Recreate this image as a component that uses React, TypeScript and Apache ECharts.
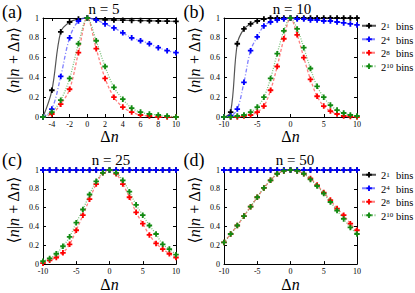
import React, { useEffect, useRef } from "react";
import * as echarts from "echarts";

const dnA = [-5, -4, -3, -2, -1, 0, 1, 2, 3, 4, 5, 6, 7, 8, 9, 10];
const dnB = [-10, -9, -8, -7, -6, -5, -4, -3, -2, -1, 0, 1, 2, 3, 4, 5, 6, 7, 8, 9, 10];

const binExps = ["1", "4", "8", "10"];
const seriesNames = ["2^1 bins", "2^4 bins", "2^8 bins", "2^10 bins"];
const panelTitles = ["n = 5", "n = 10", "n = 25", "n = 50"];
const panelTags = ["(a)", "(b)", "(c)", "(d)"];
const xTicksA = [-4, -2, 0, 2, 4, 6, 8, 10];
const xTicksB = [-10, -5, 0, 5, 10];

// panel (a) n = 5
const a1 = [0, 0.27, 0.86, 0.96, 0.99, 1, 0.985, 0.982, 0.98, 0.978, 0.976, 0.974, 0.972, 0.97, 0.968, 0.966];
const a4 = [0, 0.08, 0.41, 0.8, 0.97, 1, 0.98, 0.94, 0.9, 0.85, 0.8, 0.77, 0.74, 0.7, 0.67, 0.65];
const a8 = [0, 0.03, 0.13, 0.28, 0.65, 1, 0.69, 0.39, 0.2, 0.1, 0.05, 0.02, 0.01, 0, 0, 0];
const a10 = [0, 0.05, 0.17, 0.39, 0.74, 1, 0.77, 0.51, 0.3, 0.18, 0.09, 0.05, 0.03, 0.02, 0.01, 0];

// panel (b) n = 10
const b1 = [0, 0.05, 0.74, 0.89, 0.94, 0.97, 0.99, 1, 1, 1, 1, 1, 1, 1, 1, 1, 1, 1, 1, 1, 1];
const b4 = [0, 0.01, 0.08, 0.35, 0.67, 0.81, 0.92, 0.96, 0.98, 0.99, 1, 0.99, 0.99, 0.98, 0.98, 0.97, 0.97, 0.96, 0.95, 0.94, 0.93];
const b8 = [0, 0, 0, 0.01, 0.02, 0.05, 0.11, 0.27, 0.51, 0.79, 1, 0.83, 0.6, 0.38, 0.21, 0.11, 0.06, 0.03, 0.01, 0.005, 0];
const b10 = [0, 0, 0.01, 0.02, 0.05, 0.1, 0.2, 0.39, 0.64, 0.87, 1, 0.89, 0.7, 0.49, 0.31, 0.2, 0.12, 0.07, 0.04, 0.02, 0.01];

// panel (c) n = 25
const c1 = [1, 1, 1, 1, 1, 1, 1, 1, 1, 1, 1, 1, 1, 1, 1, 1, 1, 1, 1, 1, 1];
const c4 = [1, 1, 1, 1, 1, 1, 1, 1, 1, 1, 1, 1, 1, 1, 1, 1, 1, 1, 1, 1, 1];
const c8 = [0.01, 0.04, 0.07, 0.12, 0.21, 0.36, 0.52, 0.69, 0.85, 0.97, 1, 0.96, 0.85, 0.71, 0.55, 0.43, 0.31, 0.22, 0.16, 0.11, 0.07];
const c10 = [0.03, 0.06, 0.11, 0.19, 0.29, 0.44, 0.58, 0.74, 0.88, 0.97, 1, 0.97, 0.89, 0.77, 0.63, 0.52, 0.41, 0.32, 0.21, 0.16, 0.1];

// panel (d) n = 50
const d1 = [1, 1, 1, 1, 1, 1, 1, 1, 1, 1, 1, 1, 1, 1, 1, 1, 1, 1, 1, 1, 1];
const d4 = [1, 1, 1, 1, 1, 1, 1, 1, 1, 1, 1, 1, 1, 1, 1, 1, 1, 1, 1, 1, 1];
const d8 = [0.23, 0.32, 0.41, 0.51, 0.61, 0.71, 0.81, 0.89, 0.96, 0.99, 1, 0.99, 0.96, 0.91, 0.84, 0.76, 0.68, 0.59, 0.52, 0.43, 0.36];
const d10 = [0.23, 0.32, 0.41, 0.51, 0.61, 0.71, 0.81, 0.89, 0.96, 0.99, 1, 0.99, 0.96, 0.9, 0.83, 0.75, 0.66, 0.57, 0.48, 0.39, 0.32];

const FONT = "'Liberation Serif', 'DejaVu Serif', serif";
const PLUS = "path://M2,0H4V2H6V4H4V6H2V4H0V2H2Z";

const markerColors = ["#000000", "#0000ff", "#ff0000", "#118a11"];
const lineColors = ["#555555", "rgba(60,60,255,0.65)", "rgba(255,60,60,0.65)", "rgba(30,150,30,0.6)"];
const lineDashes: any[] = ["solid", [4, 2, 1, 2], [3, 2], [1, 1.5]];

const grids = [
  { left: 43, top: 18, width: 133, height: 99 },
  { left: 224, top: 18, width: 133, height: 99 },
  { left: 43, top: 170, width: 133, height: 98 },
  { left: 224, top: 170, width: 133, height: 98 },
];

export default function App() {
  const ref = useRef<HTMLDivElement>(null);
  useEffect(() => {
    if (!ref.current) return;
    const chart = echarts.init(ref.current, undefined, { renderer: "svg" });

    const panels = [
      { x: dnA, ys: [a1, a4, a8, a10], min: -5, ticks: xTicksA },
      { x: dnB, ys: [b1, b4, b8, b10], min: -10, ticks: xTicksB },
      { x: dnB, ys: [c1, c4, c8, c10], min: -10, ticks: xTicksB },
      { x: dnB, ys: [d1, d4, d8, d10], min: -10, ticks: xTicksB },
    ];

    const xAxis: any[] = [];
    const yAxis: any[] = [];
    panels.forEach((p, i) => {
      xAxis.push({
        type: "value",
        gridIndex: i,
        min: p.min,
        max: 10,
        position: "bottom",
        axisLine: { show: true, onZero: false, lineStyle: { color: "#000", width: 1 } },
        axisTick: { show: true, inside: true, length: 3, customValues: p.ticks, lineStyle: { color: "#000" } },
        axisLabel: { show: true, customValues: p.ticks, fontSize: 8, fontFamily: FONT, color: "#000", margin: 3 },
        splitLine: { show: false },
        name: "Δ{i|n}",
        nameLocation: "middle",
        nameGap: 9,
        nameTextStyle: {
          fontSize: 16,
          fontFamily: FONT,
          color: "#000",
          rich: { i: { fontSize: 16, fontFamily: FONT, fontStyle: "italic", color: "#000" } },
        },
      });
    });
    panels.forEach((p, i) => {
      xAxis.push({
        type: "value",
        gridIndex: i,
        min: p.min,
        max: 10,
        position: "top",
        axisLine: { show: true, onZero: false, lineStyle: { color: "#000", width: 1 } },
        axisTick: { show: true, inside: true, length: 3, customValues: p.ticks, lineStyle: { color: "#000" } },
        axisLabel: { show: false },
        splitLine: { show: false },
      });
    });
    panels.forEach((p, i) => {
      yAxis.push({
        type: "value",
        gridIndex: i,
        min: 0,
        max: 1,
        interval: 0.2,
        position: "left",
        axisLine: { show: true, onZero: false, lineStyle: { color: "#000", width: 1 } },
        axisTick: { show: true, inside: true, length: 3, lineStyle: { color: "#000" } },
        axisLabel: {
          fontSize: 8,
          fontFamily: FONT,
          color: "#000",
          margin: 4,
          formatter: (v: number) => String(Math.round(v * 10) / 10),
        },
        splitLine: { show: false },
        name: "⟨{i|n}|{i|n} + Δ{i|n}⟩",
        nameLocation: "middle",
        nameRotate: 90,
        nameGap: 22,
        nameTextStyle: {
          fontSize: 16,
          fontFamily: FONT,
          color: "#000",
          padding: [0, 0, 0, 14],
          rich: { i: { fontSize: 16, fontFamily: FONT, fontStyle: "italic", color: "#000" } },
        },
      });
    });
    panels.forEach((p, i) => {
      yAxis.push({
        type: "value",
        gridIndex: i,
        min: 0,
        max: 1,
        interval: 0.2,
        position: "right",
        axisLine: { show: true, onZero: false, lineStyle: { color: "#000", width: 1 } },
        axisTick: { show: true, inside: true, length: 3, lineStyle: { color: "#000" } },
        axisLabel: { show: false },
        splitLine: { show: false },
      });
    });

    const series: any[] = [];
    panels.forEach((p, pi) => {
      p.ys.forEach((vals, si) => {
        series.push({
          type: "line",
          name: seriesNames[si],
          xAxisIndex: pi,
          yAxisIndex: pi,
          data: p.x.map((x, k) => [x, vals[k]]),
          smooth: 0.35,
          symbol: PLUS,
          symbolSize: 5.5,
          showSymbol: true,
          itemStyle: { color: markerColors[si] },
          lineStyle: { color: lineColors[si], width: si === 0 ? 1.2 : 1.3, type: lineDashes[si] },
          z: 2 + (si === 1 ? 3 : si),
          clip: false,
        });
      });
    });

    const legendBase = (top: number) => ({
      orient: "vertical",
      left: 361,
      top,
      itemWidth: 14,
      itemHeight: 7,
      itemGap: 1,
      padding: 0,
      data: seriesNames,
      selectedMode: false,
      formatter: (name: string) => {
        const idx = seriesNames.indexOf(name);
        return "{b|2}{s|" + binExps[idx] + "}{b| bins}";
      },
      textStyle: {
        color: "#000",
        fontFamily: FONT,
        fontSize: 10.5,
        lineHeight: 7,
        padding: 0,
        rich: {
          b: { fontSize: 10.5, fontFamily: FONT, color: "#000", lineHeight: 7, padding: [1.5, 0, 0, 0] },
          s: { fontSize: 7, fontFamily: FONT, color: "#000", width: 7, lineHeight: 1, verticalAlign: "top" },
        },
      },
    });

    const tagPos = [
      [12, 12],
      [194, 12],
      [12, 160],
      [194, 160],
    ];
    const titlePos = [
      [104, 9],
      [292, 9],
      [111, 160],
      [295, 160],
    ];
    const graphic: any[] = [];
    panelTags.forEach((t, i) => {
      graphic.push({
        type: "text",
        x: tagPos[i][0],
        y: tagPos[i][1],
        style: { text: t, font: `18px ${FONT}`, fill: "#000", textAlign: "center", textVerticalAlign: "middle" },
      });
      graphic.push({
        type: "text",
        x: titlePos[i][0],
        y: titlePos[i][1],
        style: { text: panelTitles[i], font: `15px ${FONT}`, fill: "#000", textAlign: "center", textVerticalAlign: "middle" },
      });
    });

    chart.setOption({
      animation: false,
      backgroundColor: "#fff",
      grid: grids.map((g) => ({ ...g, show: false, containLabel: false })),
      xAxis,
      yAxis,
      series,
      legend: [legendBase(19.5), legendBase(168.5)],
      graphic,
    });
    return () => chart.dispose();
  }, []);
  return (
    <div
      ref={ref}
      style={{ position: "fixed", left: 0, top: 0, width: 415, height: 293, background: "#fff" }}
    />
  );
}
